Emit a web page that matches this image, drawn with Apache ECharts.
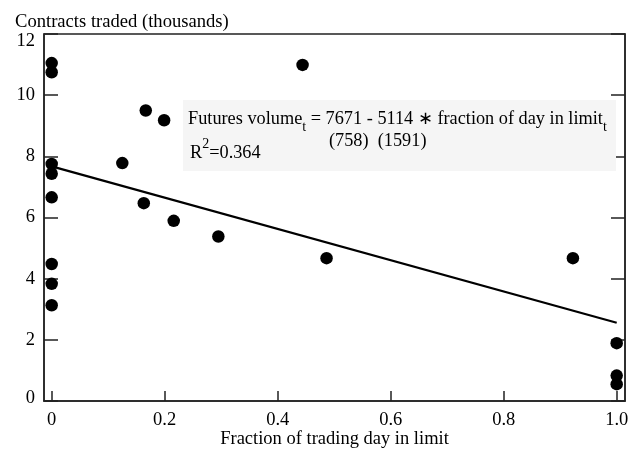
<!DOCTYPE html>
<html>
<head>
<meta charset="utf-8">
<script src="https://cdn.jsdelivr.net/npm/echarts@6/dist/echarts.min.js"></script>
<style>
  html, body { margin: 0; padding: 0; background: #fff; }
  #chart { width: 638px; height: 451px; }
</style>
</head>
<body>
<div id="chart"></div>
<script>
// fraction of trading day in limit vs futures volume (thousands)
const fracX = [0, 0, 0, 0, 0, 0, 0, 0,
  0.125, 0.1665, 0.199, 0.444, 0.163, 0.216, 0.295, 0.4865, 0.9225, 1.0, 1.0, 1.0]
const volumeY = [11.05, 10.75, 7.75, 7.43, 6.66, 4.48, 3.83, 3.13,
  7.78, 9.50, 9.18, 10.99, 6.47, 5.89, 5.38, 4.67, 4.67, 1.89, 0.83, 0.55]
// fitted line end points
const fitX = [0, 1]
const fitY = [7.671, 2.557]
const xTicks = [0, 0.2, 0.4, 0.6, 0.8, 1.0]

const serif = 'Liberation Serif'
const points = fracX.map((x, i) => [x, volumeY[i]])
const fitLine = fitX.map((x, i) => [x, fitY[i]])

const chart = echarts.init(document.getElementById('chart'))
chart.setOption({
  animation: false,
  textStyle: { fontFamily: serif, color: '#000' },
  title: {
    text: 'Contracts traded (thousands)',
    left: 10,
    top: 8,
    textStyle: { fontFamily: serif, fontSize: 18.6, fontWeight: 'normal', color: '#000' }
  },
  grid: {
    left: 44, right: 13, top: 34, bottom: 50,
    outerBoundsMode: 'none',
    containLabel: false,
    show: true, borderColor: '#222', borderWidth: 1.5, backgroundColor: 'transparent'
  },
  xAxis: {
    type: 'value',
    min: -0.0136,
    max: 1.0147,
    name: 'Fraction of trading day in limit',
    nameLocation: 'middle',
    nameGap: 29,
    nameMoveOverlap: false,
    nameTextStyle: { fontFamily: serif, fontSize: 18.5, color: '#000' },
    splitLine: { show: false },
    axisLine: { show: true, onZero: false, lineStyle: { color: '#222', width: 1.5 } },
    axisTick: { show: true, inside: true, length: 10, customValues: xTicks, lineStyle: { color: '#222', width: 1.5 } },
    axisLabel: {
      customValues: xTicks,
      margin: 10,
      fontFamily: serif, fontSize: 18.5, color: '#000',
      formatter: v => (v === 0 ? '0' : v.toFixed(1))
    }
  },
  yAxis: [
    {
      type: 'value', min: 0, max: 12, interval: 2,
      splitLine: { show: false },
      axisLine: { show: true, onZero: false, lineStyle: { color: '#222', width: 1.5 } },
      axisTick: { show: true, inside: true, length: 14, lineStyle: { color: '#222', width: 1.5 } },
      axisLabel: {
        margin: 9, fontFamily: serif, fontSize: 18.5, color: '#000',
        // end labels sit a little inside the frame
        formatter: v => (v === 12 ? '{top|12}' : v === 0 ? '{bot|0}' : String(v)),
        rich: {
          top: { fontFamily: serif, fontSize: 18.5, color: '#000', padding: [14, 0, 0, 0] },
          bot: { fontFamily: serif, fontSize: 18.5, color: '#000', padding: [0, 0, 5, 0] }
        }
      }
    },
    {
      type: 'value', min: 0, max: 12, interval: 2, position: 'right',
      splitLine: { show: false },
      axisLine: { show: true, onZero: false, lineStyle: { color: '#222', width: 1.5 } },
      axisTick: { show: true, inside: true, length: 14, lineStyle: { color: '#222', width: 1.5 } },
      axisLabel: { show: false }
    }
  ],
  graphic: [
    {
      type: 'rect', left: 183, top: 100, z: 5,
      shape: { width: 433, height: 71 },
      style: { fill: '#f5f5f5' }
    },
    {
      type: 'text', left: 188, top: 110, z: 6,
      style: {
        text: '{a|Futures volume}{s|t}{a| = 7671 - 5114 ∗ fraction of day in limit}{s|t}',
        rich: {
          a: { fontFamily: serif, fontSize: 18.3, color: '#000', lineHeight: 24, verticalAlign: 'top' },
          s: { fontFamily: serif, fontSize: 14, color: '#000', lineHeight: 4, verticalAlign: 'bottom' }
        }
      }
    },
    {
      type: 'text', left: 329, top: 132, z: 6,
      style: { text: '(758)  (1591)', fontFamily: serif, fontSize: 18.3, fill: '#000' }
    },
    {
      type: 'text', left: 190, top: 137, z: 6,
      style: {
        text: '{a|R}{p|2}{a|=0.364}',
        rich: {
          a: { fontFamily: serif, fontSize: 18.3, color: '#000', lineHeight: 25, verticalAlign: 'bottom' },
          p: { fontFamily: serif, fontSize: 14, color: '#000', lineHeight: 4, verticalAlign: 'top' }
        }
      }
    }
  ],
  series: [
    {
      type: 'scatter',
      data: points,
      symbol: 'circle',
      symbolSize: 12.5,
      itemStyle: { color: '#000', opacity: 1 },
      z: 3
    },
    {
      type: 'line',
      data: fitLine,
      showSymbol: false,
      lineStyle: { color: '#000', width: 2.2 },
      z: 10
    }
  ]
})
</script>
</body>
</html>
